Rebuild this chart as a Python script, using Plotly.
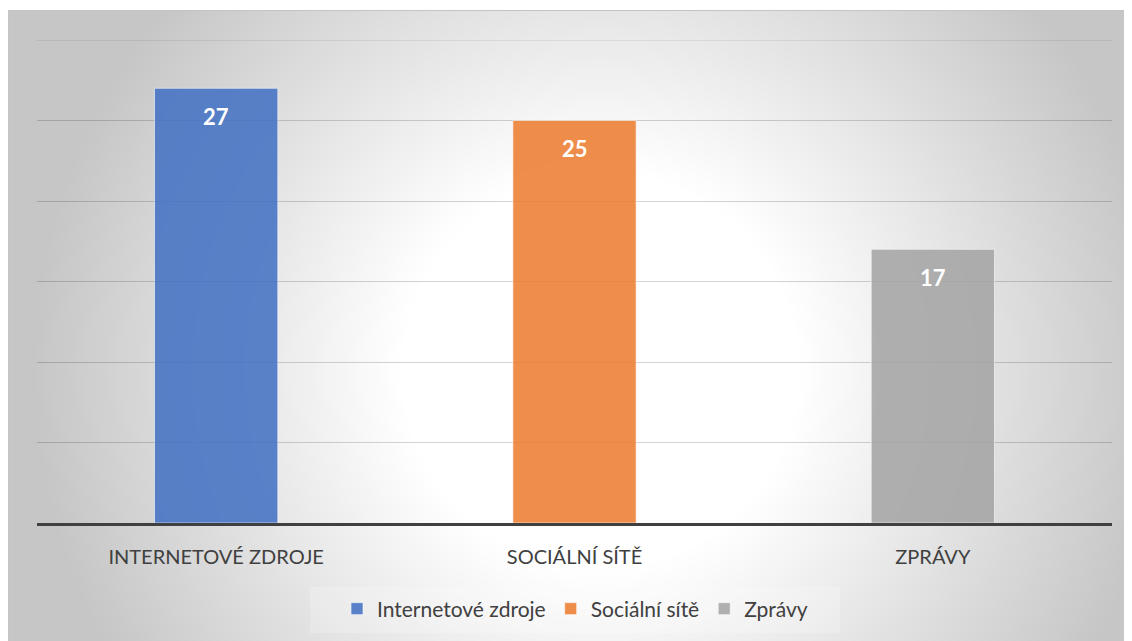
import base64, struct, zlib
import numpy as np
import plotly.graph_objects as go

# ---------------- data ----------------
categories = ["INTERNETOVÉ ZDROJE", "SOCIÁLNÍ SÍTĚ", "ZPRÁVY"]
series_names = ["Internetové zdroje", "Sociální sítě", "Zprávy"]
values = [27, 25, 17]
colors = ["#4472C4", "#ED7D31", "#A5A5A5"]
y_max = 30

W, H = 1132, 641
OFF = 8  # page body margin offset
L, R, T, B = 37, 1112, 40, 523  # plot area in screen px
FONT = "Lato"
TXT = "#404040"
GRID = "rgba(0,0,0,0.17)"


def px_x(px):
    return (px - L) / (R - L)


def px_y(py):
    return (B - py) / (B - T)


# ---------------- radial gradient background as PNG ----------------
fx0, fy0, fx1, fy1 = 8, 10, 1132, 649
gw, gh = fx1 - fx0, fy1 - fy0
yy, xx = np.mgrid[0:gh, 0:gw].astype(float)
cx, cy = 600 - fx0, 370 - fy0
d = np.sqrt((xx - cx) ** 2 + (yy - cy) ** 2)
t = np.clip((d - 200) / 370.0, 0, 1)
g = (255 - t * 57).astype(np.uint8)


def png_gray(arr):
    h, w = arr.shape
    raw = b"".join(b"\x00" + arr[i].tobytes() for i in range(h))

    def chunk(tag, data):
        c = struct.pack(">I", len(data)) + tag + data
        return c + struct.pack(">I", zlib.crc32(tag + data) & 0xFFFFFFFF)

    return (b"\x89PNG\r\n\x1a\n" + chunk(b"IHDR", struct.pack(">IIBBBBB", w, h, 8, 0, 0, 0, 0))
            + chunk(b"IDAT", zlib.compress(raw, 9)) + chunk(b"IEND", b""))


bg_uri = "data:image/png;base64," + base64.b64encode(png_gray(g)).decode()

fig = go.Figure()
for cat, name, val, col in zip(categories, series_names, values, colors):
    fig.add_trace(go.Bar(
        x=[cat], y=[val], name=name, width=0.344,
        marker=dict(color=col, line=dict(color="rgba(255,255,255,0.6)", width=1)),
        opacity=0.87, hoverinfo="x+y",
    ))
    fig.add_annotation(x=cat, y=val, xref="x", yref="y", text=f"<b>{val}</b>",
                       showarrow=False, yshift=-28, yanchor="middle",
                       font=dict(family=FONT, size=22, color="white"))

fig.update_layout(
    width=W, height=H,
    margin=dict(l=L - OFF, r=W - (R - OFF), t=T - OFF, b=H - (B - OFF), pad=0),
    paper_bgcolor="white",
    plot_bgcolor="rgba(0,0,0,0)",
    barmode="overlay",
    font=dict(family=FONT, color=TXT),
    showlegend=True,
    legend=dict(orientation="h", x=px_x(575), xanchor="center", y=px_y(609), yanchor="middle",
                bgcolor="rgba(0,0,0,0)", font=dict(family=FONT, size=21, color=TXT),
                itemwidth=30, traceorder="normal"),
    images=[dict(source=bg_uri, xref="paper", yref="paper", x=px_x(fx0), y=px_y(fy0),
                 sizex=gw / (R - L), sizey=gh / (B - T), sizing="stretch",
                 xanchor="left", yanchor="top", layer="below")],
    shapes=[
        dict(type="rect", xref="paper", yref="paper", x0=px_x(fx0 + 0.5), x1=px_x(fx1 + 5),
             y0=px_y(fy1 + 5), y1=px_y(fy0 + 0.5), line=dict(color="#c4c4c4", width=1), layer="below"),
        dict(type="rect", xref="paper", yref="paper", x0=px_x(310), x1=px_x(840),
             y0=px_y(633), y1=px_y(587), line=dict(width=0),
             fillcolor="rgba(255,255,255,0.2)", layer="below"),
        # top gridline at the axis maximum (plotly omits the edge gridline)
        dict(type="line", xref="paper", yref="y", x0=0, x1=1, y0=y_max, y1=y_max,
             line=dict(color="rgba(0,0,0,0.09)", width=1.4), layer="below"),
    ],
)
fig.update_xaxes(showline=True, linecolor="#404040", linewidth=3, showgrid=False,
                 ticks="", tickfont=dict(family=FONT, size=20, color=TXT),
                 ticklabelstandoff=14, fixedrange=True)
fig.update_yaxes(range=[0, y_max], dtick=5, showgrid=True, gridcolor=GRID, gridwidth=1.4,
                 zeroline=False, showticklabels=False, ticks="", showline=False, fixedrange=True)

fig.write_html("out.html")
